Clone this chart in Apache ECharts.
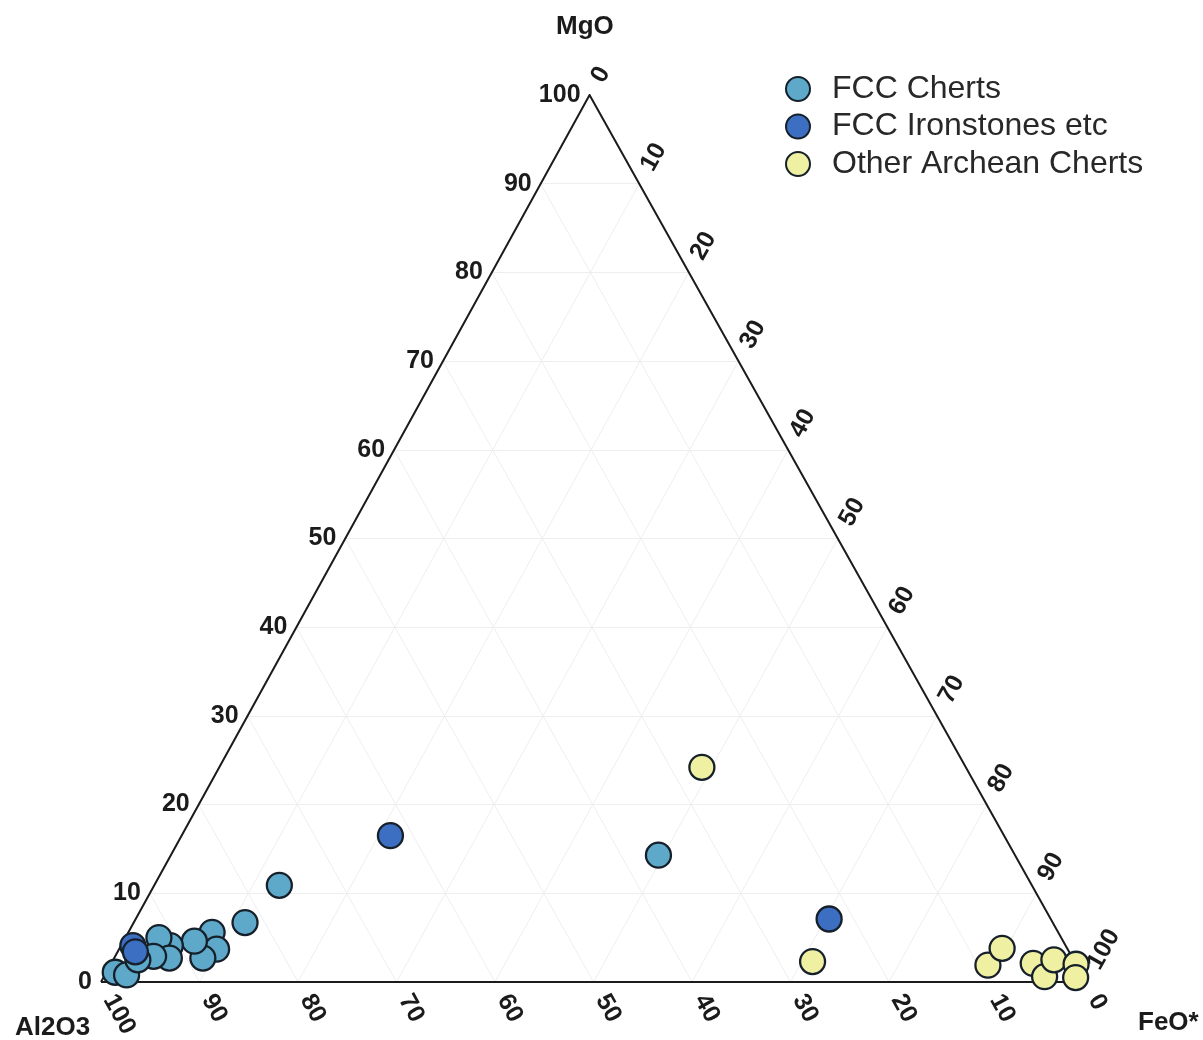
<!DOCTYPE html>
<html>
<head>
<meta charset="utf-8">
<script src="https://cdn.jsdelivr.net/npm/echarts@6/dist/echarts.min.js"></script>
<style>
  html, body { margin: 0; padding: 0; background: #ffffff; }
  #chart { width: 1203px; height: 1040px; }
</style>
</head>
<body>
<div id="chart"></div>
<script>
// Ternary compositions, each entry is [Al2O3, MgO, FeO*] in percent
const fccCherts = [
  [76.4, 10.9, 12.7],
  [36.2, 14.3, 49.5],
  [82.0, 6.7, 11.3],
  [85.9, 5.6, 8.5],
  [86.4, 3.7, 9.9],
  [88.3, 2.7, 9.0],
  [88.2, 4.6, 7.2],
  [90.9, 4.1, 5.0],
  [91.6, 5.0, 3.4],
  [91.7, 2.7, 5.6],
  [93.2, 2.9, 3.9],
  [98.0, 1.1, 0.9],
  [97.0, 0.8, 2.2],
  [95.0, 2.5, 2.5]
];
const fccIronstones = [
  [62.3, 16.5, 21.2],
  [22.5, 7.1, 70.4],
  [94.7, 4.1, 1.2],
  [94.8, 3.4, 1.8]
];
const otherArcheanCherts = [
  [26.8, 24.2, 49.0],
  [26.6, 2.3, 71.1],
  [9.0, 1.9, 89.1],
  [6.6, 3.8, 89.6],
  [4.3, 2.1, 93.6],
  [3.9, 0.6, 95.5],
  [2.0, 2.5, 95.5],
  [0.0, 2.0, 98.0],
  [0.8, 0.5, 98.7]
];
const tickValues = [0, 10, 20, 30, 40, 50, 60, 70, 80, 90, 100];
const seriesNames = ['FCC Cherts', 'FCC Ironstones etc', 'Other Archean Cherts'];

// Horizontal position of the MgO apex as a fraction of the base
const APEX_X = 0.496;
// Distance (in ternary units) that rotated tick labels sit beyond the edge
const LABEL_GAP = 1.6;

// Ternary [Al2O3, MgO, FeO] -> cartesian [x, y] on 0..100 axes
function toXY(al, mg, fe) {
  const s = al + mg + fe;
  const m = mg / s * 100, f = fe / s * 100;
  return [f + m * APEX_X, m];
}

const FONT = 'Liberation Sans, Arial, Helvetica, sans-serif';
const INK = '#1b1b1b';

// Faint 10 % grid lines parallel to each side
const gridLines = [];
tickValues.slice(1, -1).forEach(k => {
  gridLines.push({ coords: [toXY(100 - k, k, 0), toXY(0, k, 100 - k)] });   // constant MgO
  gridLines.push({ coords: [toXY(100 - k, 0, k), toXY(0, 100 - k, k)] });   // constant FeO*
  gridLines.push({ coords: [toXY(k, 100 - k, 0), toXY(k, 0, 100 - k)] });   // constant Al2O3
});

const outline = [{ coords: [toXY(100, 0, 0), toXY(0, 0, 100), toXY(0, 100, 0), toXY(100, 0, 0)] }];

// Tick label anchors
const mgoTicks = tickValues.map(k => ({ value: toXY(100 - k, k, 0), name: String(k) }));
const feoTicks = tickValues.map(k => ({ value: toXY(-LABEL_GAP, 100 - k + LABEL_GAP, k), name: String(k) }));
const alTicks = tickValues.map(k => ({ value: toXY(k, -LABEL_GAP, 100 - k + LABEL_GAP), name: String(k) }));

const tickLabelStyle = {
  show: true,
  formatter: '{b}',
  color: INK,
  opacity: 1,
  fontFamily: FONT,
  fontWeight: 'bold',
  fontSize: 25
};

function tickSeries(data, label) {
  return {
    type: 'scatter',
    data: data,
    symbolSize: 0,
    silent: true,
    clip: false,
    z: 4,
    itemStyle: { opacity: 1 },
    label: Object.assign({}, tickLabelStyle, label)
  };
}

function pointSeries(name, rows, color) {
  return {
    name: name,
    type: 'scatter',
    data: rows.map(r => toXY(r[0], r[1], r[2])),
    symbol: 'circle',
    symbolSize: 25,
    clip: false,
    z: 6,
    itemStyle: { color: color, borderColor: '#16202a', borderWidth: 2.3, opacity: 1 }
  };
}

const chart = echarts.init(document.getElementById('chart'), null, { renderer: 'canvas' });
chart.setOption({
  animation: false,
  backgroundColor: '#ffffff',
  grid: { left: 101, top: 95, width: 985, height: 887 },
  xAxis: { type: 'value', min: 0, max: 100, show: false },
  yAxis: { type: 'value', min: 0, max: 100, show: false },
  title: [
    { text: 'MgO', left: 551, top: 9, textStyle: { fontFamily: FONT, fontWeight: 'bold', fontSize: 26, color: INK } },
    { text: 'Al2O3', left: 10, top: 1010, textStyle: { fontFamily: FONT, fontWeight: 'bold', fontSize: 26, color: INK } },
    { text: 'FeO*', left: 1133, top: 1005, textStyle: { fontFamily: FONT, fontWeight: 'bold', fontSize: 26, color: INK } }
  ],
  legend: {
    data: seriesNames,
    orient: 'vertical',
    left: 780,
    top: 68,
    icon: 'circle',
    itemWidth: 24,
    itemHeight: 24,
    itemGap: 5.5,
    selectedMode: false,
    textStyle: { fontFamily: FONT, fontSize: 32, lineHeight: 32, color: '#282828', padding: [0, 0, 0, 17] }
  },
  series: [
    {
      type: 'lines',
      coordinateSystem: 'cartesian2d',
      data: gridLines,
      silent: true,
      z: 1,
      lineStyle: { color: '#eeeeee', width: 1, opacity: 1 }
    },
    {
      type: 'lines',
      coordinateSystem: 'cartesian2d',
      polyline: true,
      data: outline,
      silent: true,
      z: 3,
      lineStyle: { color: INK, width: 2, opacity: 1 }
    },
    tickSeries(mgoTicks, { position: 'left', distance: 9 }),
    tickSeries(feoTicks, { position: 'inside', align: 'left', verticalAlign: 'middle', rotate: 61 }),
    tickSeries(alTicks, { position: 'inside', align: 'left', verticalAlign: 'middle', rotate: -61 }),
    pointSeries(seriesNames[0], fccCherts, '#5ea9ca'),
    pointSeries(seriesNames[1], fccIronstones, '#3c6fc2'),
    pointSeries(seriesNames[2], otherArcheanCherts, '#f0f0a2')
  ]
});
</script>
</body>
</html>
